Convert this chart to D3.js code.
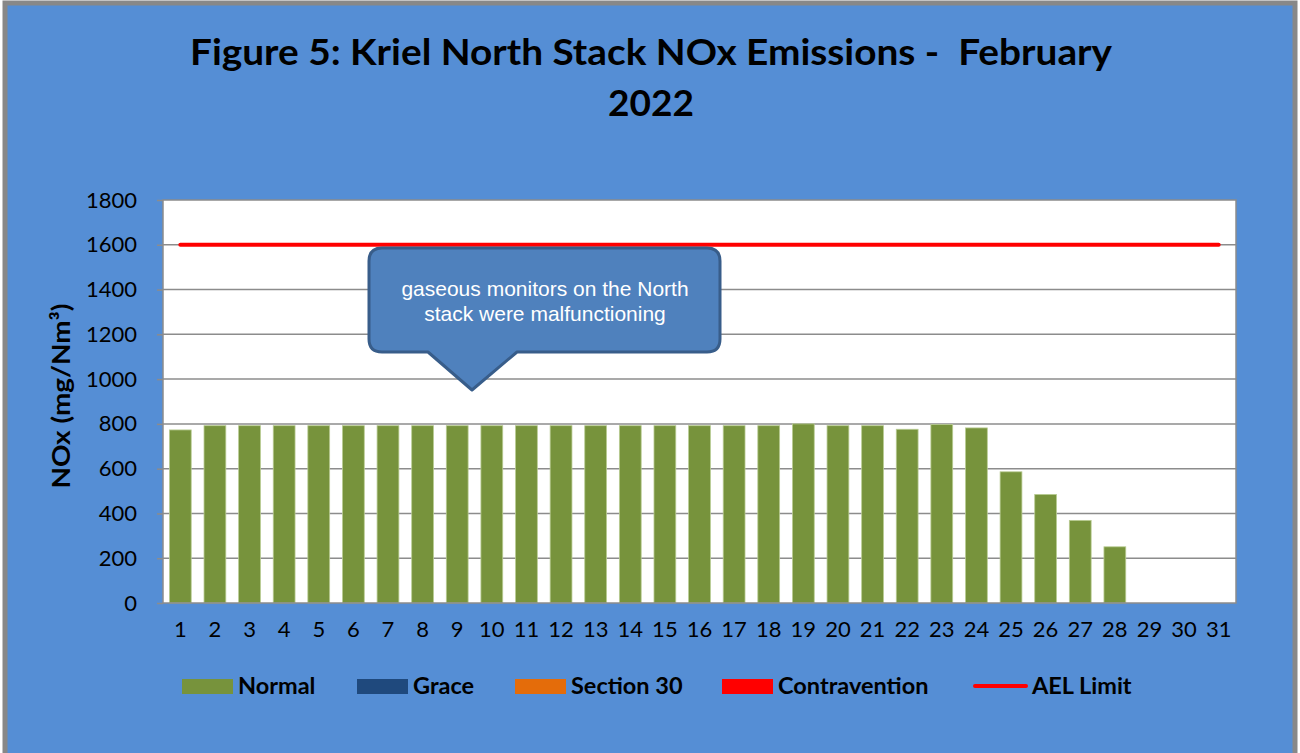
<!DOCTYPE html>
<html>
<head>
<meta charset="utf-8">
<title>Kriel North Stack NOx</title>
<script src="https://d3js.org/d3.v7.min.js"></script>
<style>
  body { margin: 0; background: #fff; }
  text { font-family: Lato, "Open Sans", sans-serif; }
</style>
</head>
<body>
<div id="chart"></div>
<script>
// data
const days = d3.range(1, 32).map(String);
const normal = [773, 792, 792, 792, 792, 792, 792, 792, 792, 792, 792, 792, 792, 792, 792, 792, 792, 792, 800, 792, 792, 776, 797, 782, 586, 485, 369, 251, 0, 0, 0];
const grace = days.map(() => 0);
const section30 = days.map(() => 0);
const contravention = days.map(() => 0);
const aelLimit = days.map(() => 1600);
const yTicks = [0, 200, 400, 600, 800, 1000, 1200, 1400, 1600, 1800];

const W = 1300, H = 753;
const margin = {top: 200, right: 64, bottom: 150, left: 163};
const w = W - margin.left - margin.right;
const h = H - margin.top - margin.bottom;

const svg = d3.select("#chart").append("svg")
    .attr("width", W).attr("height", H);

// outer frame
svg.append("rect").attr("x", 5).attr("y", 3).attr("width", 1290).attr("height", 760)
    .attr("fill", "#558ed5").attr("stroke", "#888").attr("stroke-width", 5);

// title
const title = svg.append("text").attr("text-anchor", "middle")
    .attr("font-size", 37).attr("font-weight", "bold").attr("fill", "#000")
    .style("white-space", "pre");
title.append("tspan").attr("x", 651).attr("y", 65)
    .attr("textLength", 922).attr("lengthAdjust", "spacingAndGlyphs")
    .text("Figure 5: Kriel North Stack NOx Emissions -  February");
title.append("tspan").attr("x", 651).attr("y", 116).text("2022");

const g = svg.append("g").attr("transform", `translate(${margin.left},${margin.top})`);

const x = d3.scaleBand().domain(days).range([0, w]).paddingInner(0.37).paddingOuter(0.185);
const y = d3.scaleLinear().domain([0, 1800]).range([h, 0]);

g.append("rect").attr("width", w).attr("height", h).attr("fill", "#fff");

// gridlines
g.append("g").selectAll("line").data(yTicks.filter(d => d > 0 && d < 1800)).join("line")
    .attr("x1", 0).attr("x2", w).attr("y1", d => y(d)).attr("y2", d => y(d))
    .attr("stroke", "#8c8c8c").attr("stroke-width", 1.5);

// bars (stacked series; only Normal has non-zero values)
const seriesInfo = [
  {name: "Normal", values: normal, color: "#77933c"},
  {name: "Grace", values: grace, color: "#1f497d"},
  {name: "Section 30", values: section30, color: "#e46c0a"},
  {name: "Contravention", values: contravention, color: "#ff0000"}
];
const table = days.map((d, i) => {
  const row = {day: d};
  seriesInfo.forEach(s => row[s.name] = s.values[i]);
  return row;
});
const stack = d3.stack().keys(seriesInfo.map(s => s.name))(table);
g.append("g").selectAll("g").data(stack).join("g")
    .attr("fill", (d, i) => seriesInfo[i].color)
  .selectAll("rect").data(d => d.filter(p => p[1] - p[0] > 0)).join("rect")
    .attr("x", d => x(d.data.day))
    .attr("width", x.bandwidth())
    .attr("y", d => y(d[1]))
    .attr("height", d => y(d[0]) - y(d[1]))
    .attr("stroke", "#b9cc93").attr("stroke-width", 0.8);

// AEL limit line
const line = d3.line().x((d, i) => x(days[i]) + x.bandwidth() / 2).y(d => y(d));
g.append("path").datum(aelLimit).attr("d", line)
    .attr("fill", "none").attr("stroke", "#ff0000").attr("stroke-width", 4)
    .attr("stroke-linecap", "round");

// plot border
g.append("rect").attr("width", w).attr("height", h).attr("fill", "none")
    .attr("stroke", "#8c8c8c").attr("stroke-width", 1.5);

// axes
const yAxis = g.append("g").call(d3.axisLeft(y).tickValues(yTicks).tickFormat(d3.format("d"))
    .tickSize(6).tickPadding(20));
yAxis.select(".domain").remove();
yAxis.selectAll("line").attr("stroke", "#8c8c8c").attr("stroke-width", 1.5);
yAxis.selectAll("text").attr("font-size", 22).attr("fill", "#000")
    .style("font-family", "Lato, 'Open Sans', sans-serif");

const xAxis = g.append("g").attr("transform", `translate(0,${h})`)
    .call(d3.axisBottom(x).tickSize(0).tickPadding(18));
xAxis.select(".domain").remove();
xAxis.selectAll("text").attr("font-size", 22).attr("fill", "#000")
    .style("font-family", "Lato, 'Open Sans', sans-serif");

// y title
svg.append("text").attr("transform", "translate(70,396) rotate(-90)")
    .attr("text-anchor", "middle").attr("font-size", 24).attr("font-weight", "bold")
    .attr("textLength", 185).attr("lengthAdjust", "spacingAndGlyphs")
    .text("NOx (mg/Nm³)");

// callout
const callout = svg.append("g");
callout.append("path")
    .attr("d", "M382,248 H707 Q720,248 720,261 V339 Q720,352 707,352 H517 L472,390 L428,352 H382 Q369,352 369,339 V261 Q369,248 382,248 Z")
    .attr("fill", "#4f81bd").attr("stroke", "#385d8a").attr("stroke-width", 3)
    .attr("stroke-linejoin", "round");
const ct = callout.append("text").attr("text-anchor", "middle").attr("fill", "#fff")
    .attr("font-size", 21).style("font-family", "'Liberation Sans', Arial, sans-serif");
ct.append("tspan").attr("x", 545).attr("y", 296).text("gaseous monitors on the North");
ct.append("tspan").attr("x", 545).attr("y", 321).text("stack were malfunctioning");

// legend
const legendItems = [
  {name: "Normal", color: "#77933c", x: 182, type: "rect"},
  {name: "Grace", color: "#1f497d", x: 357, type: "rect"},
  {name: "Section 30", color: "#e46c0a", x: 515, type: "rect"},
  {name: "Contravention", color: "#ff0000", x: 722, type: "rect"},
  {name: "AEL Limit", color: "#ff0000", x: 973, type: "line"}
];
const lg = svg.append("g").selectAll("g").data(legendItems).join("g")
    .attr("transform", d => `translate(${d.x},686)`);
lg.filter(d => d.type === "rect").append("rect")
    .attr("x", 0).attr("y", -7).attr("width", 51).attr("height", 15).attr("fill", d => d.color);
lg.filter(d => d.type === "line").append("line")
    .attr("x1", 2).attr("x2", 53).attr("y1", 0).attr("y2", 0)
    .attr("stroke", d => d.color).attr("stroke-width", 4).attr("stroke-linecap", "round");
lg.append("text").attr("x", d => d.type === "line" ? 59 : 56).attr("y", 8)
    .attr("font-size", 23.5).attr("font-weight", "bold").text(d => d.name);
</script>
</body>
</html>
